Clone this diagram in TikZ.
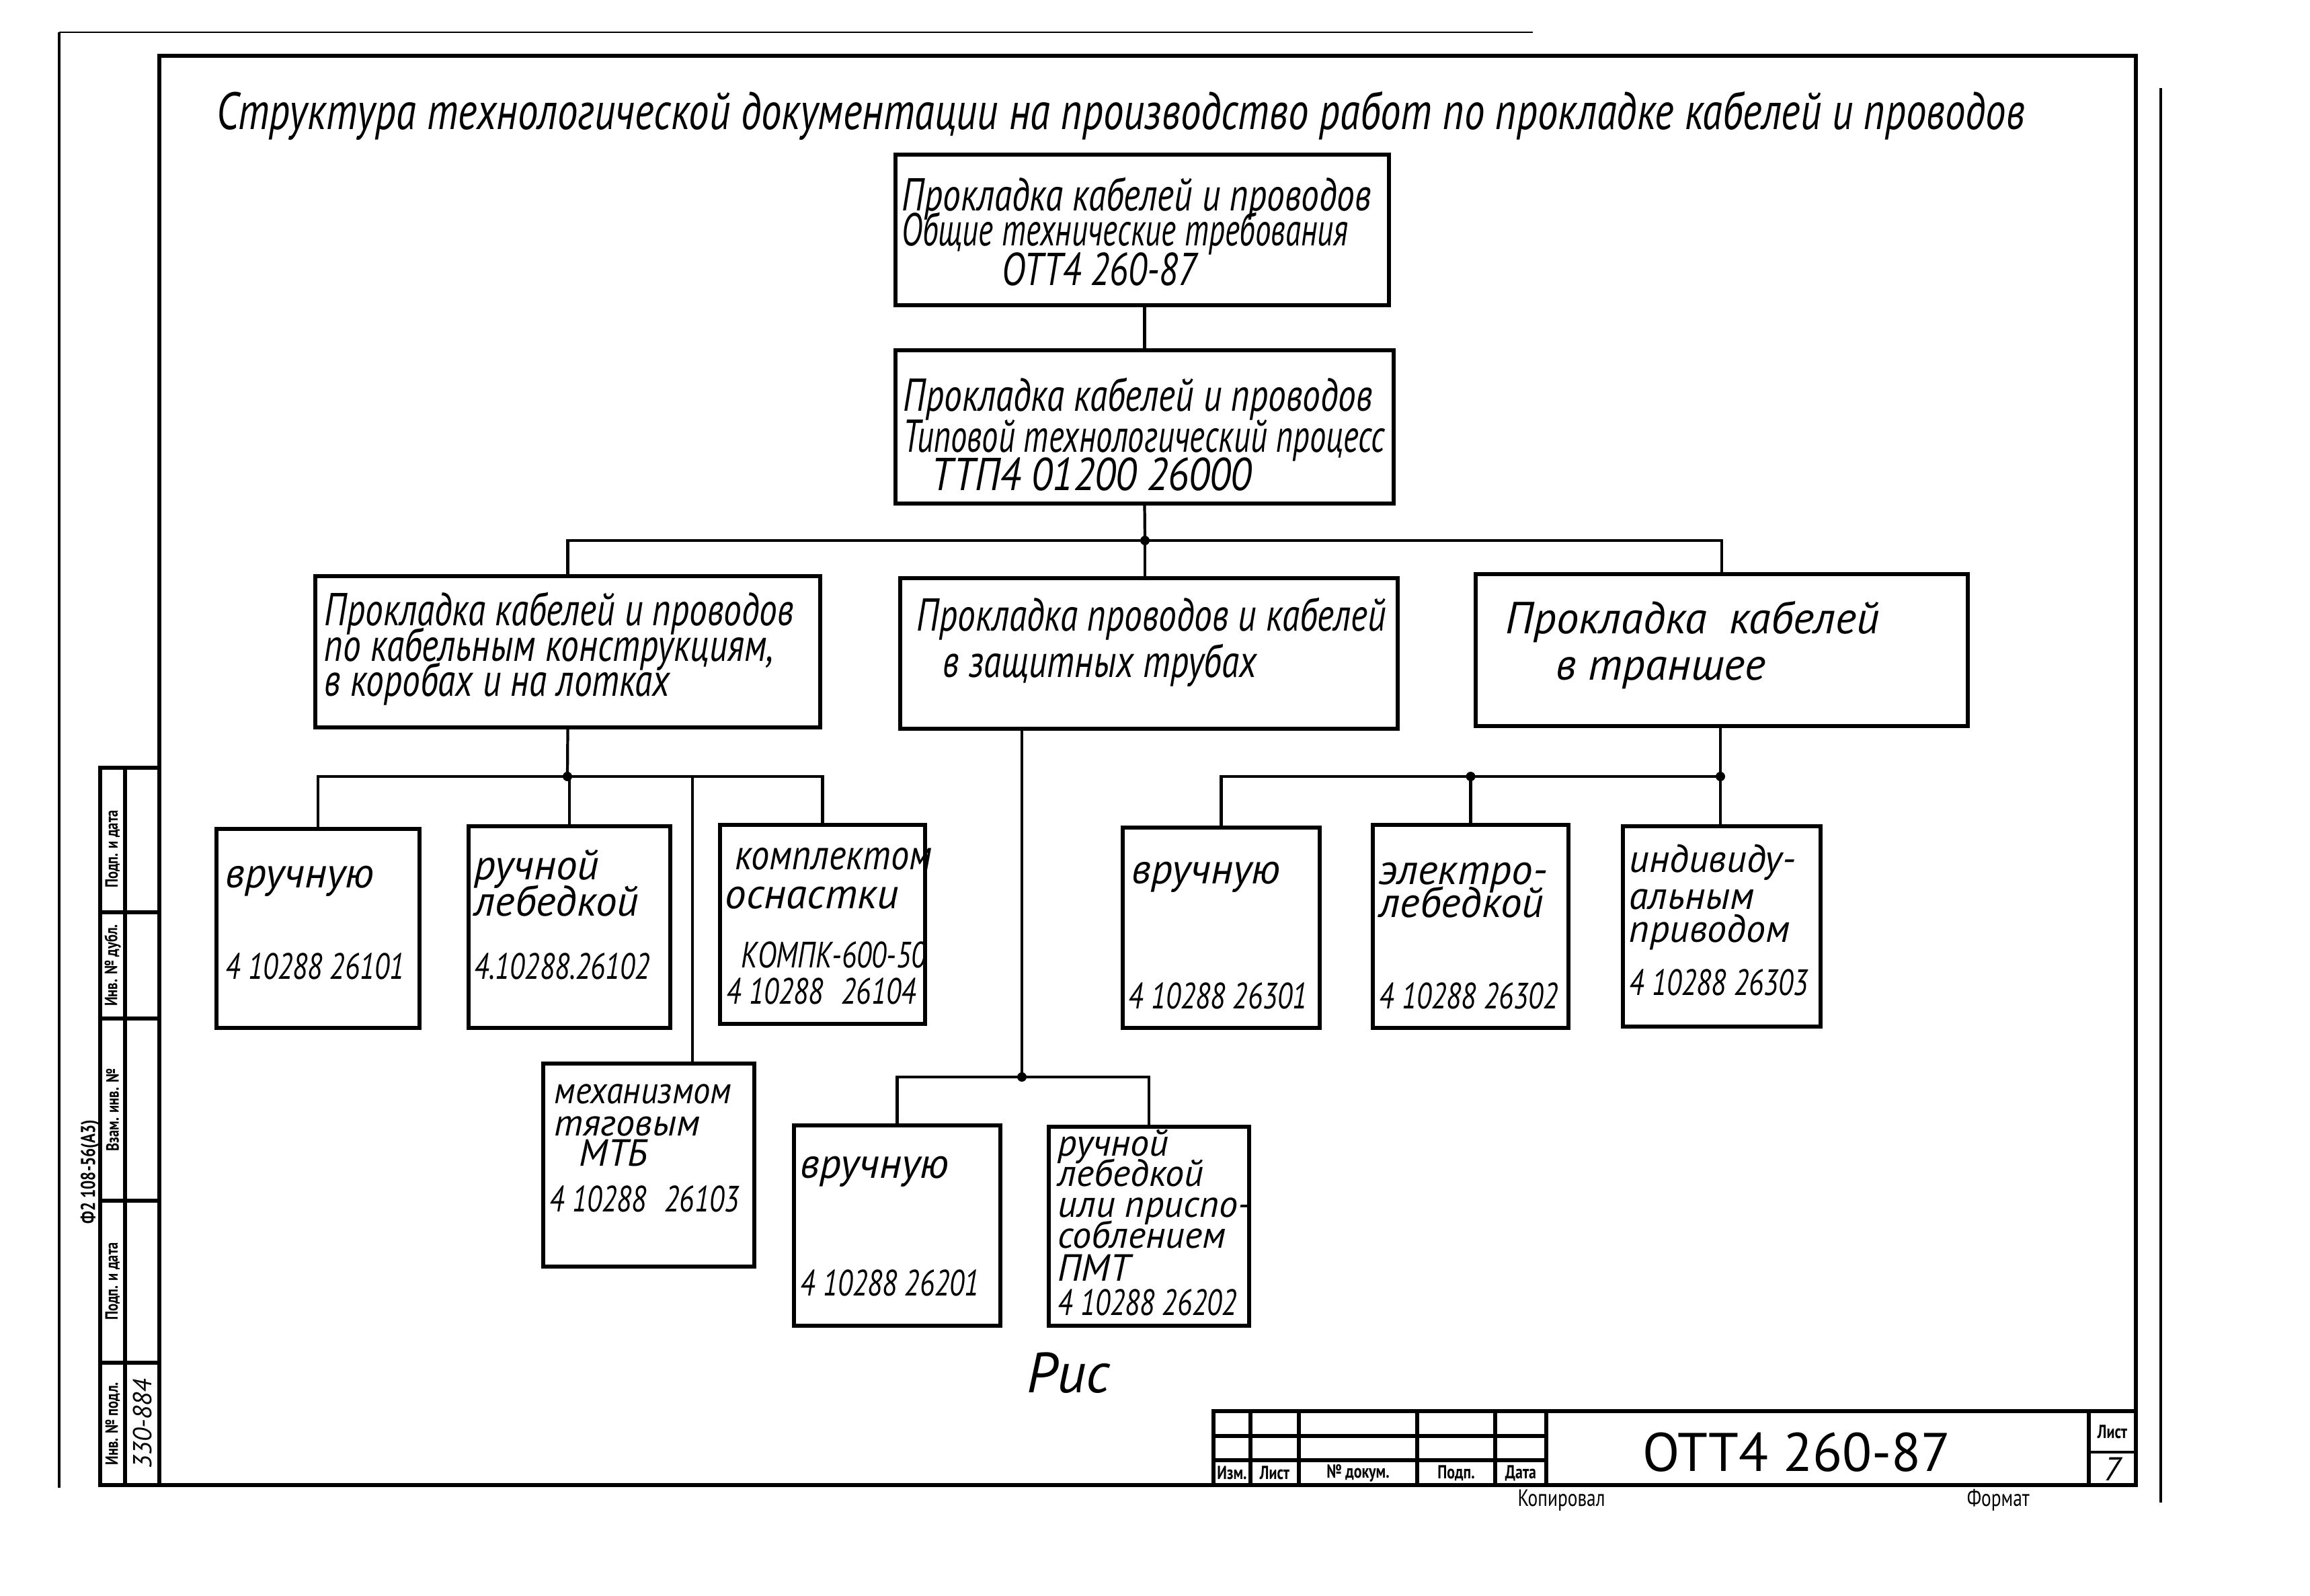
\documentclass[tikz,border=0pt]{standalone}
\usepackage{fontspec}
\usepackage{graphicx}
\setmainfont{PT Sans}
\newfontfamily\gost{PT Sans}[FakeStretch=0.78]
\newfontfamily\gostw{PT Sans}
\lineskiplimit=-30pt

\tikzset{
  box/.style={draw,line width=1.7pt,inner sep=0pt},
  wire/.style={line width=1.2pt},
  frm/.style={line width=1.8pt},
  txt/.style={anchor=base west,inner sep=0pt,align=left},
  ttl/.style={txt,font=\gost\itshape\fontsize{22.2}{24}\selectfont},
  hd/.style={txt,font=\gost\itshape\fontsize{19.5}{15}\selectfont},
  hdl/.style={txt,font=\gostw\itshape\fontsize{19}{15}\selectfont},
  nm/.style={txt,font=\gostw\itshape\fontsize{18}{15.6}\selectfont},
  nms/.style={txt,font=\gostw\itshape\fontsize{16}{13}\selectfont},
  num/.style={txt,font=\gost\itshape\fontsize{15.5}{15.6}\selectfont},
  stl/.style={inner sep=0pt,rotate=90,font=\gost\bfseries\fontsize{7.5}{8}\selectfont},
  tbl/.style={inner sep=0pt,font=\gost\bfseries\fontsize{8}{9}\selectfont}
}

\begin{document}
\begin{tikzpicture}
\useasboundingbox (0,0) rectangle (34.36,23.73);

\draw[frm] (2.37,1.64) rectangle (31.77,22.90);
\draw[line width=1.2pt] (0.88,1.60) -- (0.88,23.25);
\draw[line width=0.8pt] (0.88,23.25) -- (22.80,23.25);
\draw[line width=1.2pt] (32.14,1.38) -- (32.14,22.42);

\node[ttl] (title) at (3.22,21.80) {Структура технологической документации на производство работ по прокладке кабелей и проводов};

\node[box,minimum width=7.34cm,minimum height=2.24cm] (ott) at (16.99,20.31) {};
\node[box,minimum width=7.41cm,minimum height=2.28cm] (ttp) at (17.025,17.38) {};
\node[box,minimum width=7.51cm,minimum height=2.25cm] (kon) at (8.445,14.035) {};
\node[box,minimum width=7.40cm,minimum height=2.24cm] (tru) at (17.09,14.01) {};
\node[box,minimum width=7.32cm,minimum height=2.26cm] (tra) at (25.61,14.06) {};

\node[box,minimum width=3.02cm,minimum height=2.96cm] (a1) at (4.73,9.92) {};
\node[box,minimum width=3.00cm,minimum height=3.00cm] (a2) at (8.47,9.94) {};
\node[box,minimum width=3.05cm,minimum height=2.96cm] (a3) at (12.235,9.98) {};
\node[box,minimum width=3.14cm,minimum height=3.02cm] (a4) at (9.65,6.40) {};
\node[box,minimum width=3.07cm,minimum height=2.98cm] (b1) at (13.345,5.50) {};
\node[box,minimum width=2.98cm,minimum height=2.96cm] (b2) at (17.09,5.49) {};
\node[box,minimum width=2.93cm,minimum height=2.98cm] (c1) at (18.165,9.93) {};
\node[box,minimum width=2.91cm,minimum height=3.02cm] (c2) at (21.875,9.95) {};
\node[box,minimum width=2.94cm,minimum height=2.98cm] (c3) at (25.61,9.95) {};

\coordinate (j0) at (17.03,15.69);
\coordinate (ja) at (8.44,12.18);
\coordinate (ja4) at (10.30,12.18);
\coordinate (jb) at (15.20,7.71);
\coordinate (jc) at (25.59,12.18);

\draw[wire] (ttp.north) -- (ttp.north |- ott.south);
\draw[wire] (ttp.south) -- (j0);
\draw[wire] (kon.north) |- (j0) -| (tra.north);
\draw[wire] (j0) -- (j0 |- tru.north);

\draw[wire] (kon.south) -- (ja);
\draw[wire] (a1.north) |- (ja) -| (a3.north);
\draw[wire] (a2.north |- ja) -- (a2.north);
\draw[wire] (ja4) -- (ja4 |- a4.north);

\draw[wire] (jb |- tru.south) -- (jb);
\draw[wire] (b1.north) |- (jb) -| (b2.north);

\draw[wire] (tra.south -| jc) -- (jc);
\draw[wire] (c1.north) |- (jc) -- (jc |- c3.north);
\draw[wire] (c2.north |- jc) -- (c2.north);

\foreach \p in {j0,ja,jb,jc} \fill (\p) circle (0.07);
\fill (c2.north |- jc) circle (0.07);

\node[hd] (ott-t) at (13.41,19.48) {Прокладка кабелей и проводов\\\scalebox{0.88}[1]{Общие технические требования}\\[1.8pt]\hspace*{1.49cm}ОТТ4 260-87};
\node[hd] (ttp-t) at (13.43,16.43) {Прокладка кабелей и проводов\\[2.3pt]\scalebox{0.91}[1]{Типовой технологический процесс}\\[1.4pt]\hspace*{0.42cm}\scalebox{1.12}[1]{ТТП4 01200 26000}};
\node[hd] (kon-t) at (4.82,13.37) {Прокладка кабелей и проводов\\по кабельным конструкциям,\\в коробах и на лотках};
\node[hd] (tru-t) at (13.63,13.65) {Прокладка проводов и кабелей\\[4.8pt]\hspace*{0.39cm}в защитных трубах};
\node[hdl] (tra-t) at (22.39,13.61) {Прокладка\enspace кабелей\\[4.8pt]\hspace*{0.75cm}в траншее};

\node[nm] (a1-t) at (3.35,10.52) {вручную};
\node[nm] (a2-t) at (7.05,10.10) {ручной\\лебедкой};
\node[nm] (a3-t) at (10.78,10.21) {\hspace*{0.15cm}\scalebox{0.86}[1]{комплектом}\\[1.1pt]оснастки};
\node[nms] (a4-t) at (8.24,6.38) {\scalebox{0.9}[1]{механизмом}\\[0.6pt]тяговым\\\hspace*{0.37cm}МТБ};
\node[nm] (b1-t) at (11.90,6.20) {вручную};
\node[nms] (b2-t) at (15.73,4.67) {ручной\\лебедкой\\или приспо-\\соблением\\[1.2pt]ПМТ};
\node[nm] (c1-t) at (16.83,10.58) {вручную};
\node[txt,font=\gostw\itshape\fontsize{18}{14.2}\selectfont] (c2-t) at (20.51,10.08) {электро-\\лебедкой};
\node[txt,font=\gostw\itshape\fontsize{16.5}{14.2}\selectfont] (c3-t) at (24.23,9.71) {индивиду-\\[1.4pt]альным\\приводом};

\foreach \x/\y/\t [count=\i] in {
  3.35/9.16/4 10288 26101, 7.05/9.16/4.10288.26102, 8.17/5.70/4 10288\enspace 26103,
  11.90/4.45/4 10288 26201, 15.73/4.16/4 10288 26202,
  16.78/8.72/4 10288 26301, 20.51/8.72/4 10288 26302, 24.23/8.92/4 10288 26303}
  \node[num] (nu\i) at (\x,\y) {\t};
\node[num] (a3-n) at (10.80,8.79) {\hspace*{0.22cm}КОМПК-600-50\\4 10288\enspace 26104};

\node[txt,font=\gostw\itshape\fontsize{24}{26}\selectfont] (fig) at (15.27,3.02) {Рис};

\draw[frm] (18.05,1.64) rectangle (31.77,2.74);
\foreach \x in {18.60,19.32,21.08,22.24,23.00,31.07} \draw[frm] (\x,1.64) -- (\x,2.74);
\draw[frm] (18.05,2.37) -- (23.00,2.37);
\draw[frm] (18.05,2.01) -- (23.00,2.01);
\draw[line width=1.2pt] (31.07,2.13) -- (31.77,2.13);
\foreach \x/\t [count=\i] in {18.325/Изм., 18.96/Лист, 20.20/№ докум., 21.66/Подп., 22.62/Дата}
  \node[tbl] (tb\i) at (\x,1.82) {\t};
\node[txt,font=\gostw\fontsize{23}{25}\selectfont] (code) at (24.43,1.85) {ОТТ4 260-87};
\node[tbl] (sh) at (31.42,2.43) {Лист};
\node[inner sep=0pt,font=\gostw\itshape\fontsize{14}{15}\selectfont] (shn) at (31.42,1.88) {7};
\node[txt,font=\gost\fontsize{10}{11}\selectfont] (kop) at (22.57,1.33) {Копировал};
\node[txt,font=\gost\fontsize{10}{11}\selectfont] (fmt) at (29.25,1.33) {Формат};

\draw[frm] (1.49,1.64) rectangle (2.37,12.31);
\draw[frm] (1.86,1.64) -- (1.86,12.31);
\foreach \y in {10.16,8.58,5.87,3.46} \draw[frm] (1.49,\y) -- (2.37,\y);
\foreach \y/\t [count=\i] in {11.10/Подп. и дата, 9.37/Инв. № дубл., 7.22/Взам. инв. №, 4.67/Подп. и дата, 2.55/Инв. № подл.}
  \node[stl] (st\i) at (1.675,\y) {\t};
\node[stl,font=\gost\bfseries\fontsize{8.5}{10}\selectfont] (frm) at (1.34,6.30) {Ф2 108-56(А3)};
\node[stl,font=\gostw\itshape\fontsize{11}{12}\selectfont] (inv) at (2.12,2.55) {330-884};
\end{tikzpicture}
\end{document}
